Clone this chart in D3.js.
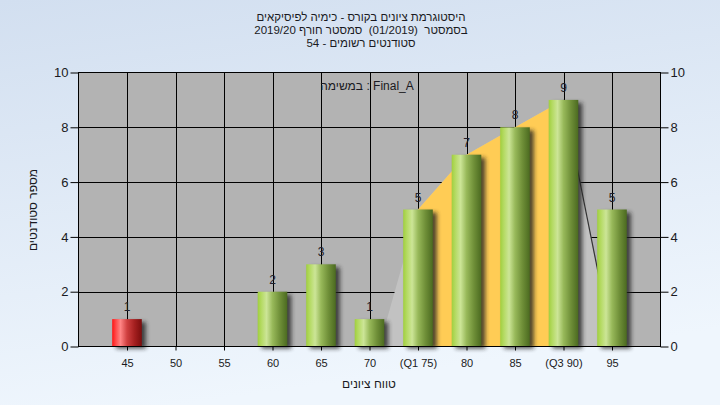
<!DOCTYPE html>
<html>
<head>
<meta charset="utf-8">
<script src="https://cdn.jsdelivr.net/npm/d3@7"></script>
<style>
html,body{margin:0;padding:0;}
svg{display:block;font-family:"Liberation Sans",Arial,"DejaVu Sans",sans-serif;}
.pre{white-space:pre;}
</style>
</head>
<body>
<svg id="chart" width="720" height="405"></svg>
<script>
// ---------- data ----------
const titleLines = [
  "היסטוגרמת ציונים בקורס - כימיה לפיסיקאים",
  "בסמסטר  (01/2019)  סמסטר חורף 2019/20",
  "סטודנטים רשומים - 54"
];
const legendText = "במשימה : Final_A";
const yTitle = "מספר סטודנטים";
const xTitle = "טווח ציונים";
const grades = [45, 50, 55, 60, 65, 70, 75, 80, 85, 90, 95];
const gradeLabels = ["45", "50", "55", "60", "65", "70", "(Q1 75)", "80", "85", "(Q3 90)", "95"];
const counts = [1, 0, 0, 2, 3, 1, 5, 7, 8, 9, 5];
const yTicks = [0, 2, 4, 6, 8, 10];
const failBelow = 55;          // grades below this are drawn red
const q1 = 75, q3 = 90;        // quartile band
const spreadStart = 71.0;      // light band begins on baseline
const spreadEnd = 95.1;        // light band ends on baseline

// ---------- setup ----------
const svg = d3.select("#chart");
const W = 720, H = 405;
const plot = {l: 78.5, r: 660.5, t: 72.5, b: 346.5};

const x = d3.scaleLinear().domain([40, 100]).range([plot.l, plot.r]);
const y = d3.scaleLinear().domain([0, 10]).range([plot.b, plot.t]);
const barW = (x(5) - x(0)) * 0.61;

const defs = svg.append("defs");
const bgGrad = defs.append("linearGradient").attr("id", "bg").attr("x1", 0).attr("y1", 0).attr("x2", 0.25).attr("y2", 1);
bgGrad.append("stop").attr("offset", "0%").attr("stop-color", "#d2dff0");
bgGrad.append("stop").attr("offset", "100%").attr("stop-color", "#eff6fd");

function barGradient(id, stops) {
  const g = defs.append("linearGradient").attr("id", id).attr("x1", 0).attr("y1", 0).attr("x2", 1).attr("y2", 0);
  stops.forEach(s => g.append("stop").attr("offset", s[0]).attr("stop-color", s[1]));
}
barGradient("green", [["0%", "#a0cf3e"], ["12%", "#b4da62"], ["30%", "#cce597"], ["50%", "#98b95a"], ["75%", "#6f8f38"], ["100%", "#4b6a20"]]);
barGradient("red", [["0%", "#ff1414"], ["12%", "#ff4848"], ["28%", "#ff8585"], ["50%", "#d04040"], ["75%", "#a52020"], ["100%", "#7a0c0c"]]);

const blur = defs.append("filter").attr("id", "shadow").attr("x", "-50%").attr("y", "-20%").attr("width", "200%").attr("height", "140%");
blur.append("feGaussianBlur").attr("stdDeviation", 2);

// background
svg.append("rect").attr("width", W).attr("height", H).attr("fill", "url(#bg)");

// plot background
svg.append("rect").attr("x", plot.l).attr("y", plot.t)
  .attr("width", plot.r - plot.l).attr("height", plot.b - plot.t).attr("fill", "#b3b3b3");

// grid lines
const grid = svg.append("g").attr("stroke", "#000").attr("stroke-width", 1);
grid.selectAll(".hg").data(yTicks.filter(v => v > 0 && v < 10)).join("line")
  .attr("x1", plot.l).attr("x2", plot.r)
  .attr("y1", d => Math.round(y(d)) + 0.5).attr("y2", d => Math.round(y(d)) + 0.5);
grid.selectAll(".vg").data(grades).join("line")
  .attr("y1", plot.t).attr("y2", plot.b)
  .attr("x1", d => Math.round(x(d)) + 0.5).attr("x2", d => Math.round(x(d)) + 0.5);

// light spread band
const inner = grades.map((g, i) => ({g, c: counts[i]})).filter(d => d.g >= q1 && d.g <= q3);
const spreadPts = [{g: spreadStart, c: 0}, ...inner, {g: spreadEnd, c: 0}];
svg.append("path")
  .attr("d", d3.line().x(d => x(d.g)).y(d => y(d.c))(spreadPts) + "Z")
  .attr("fill", "#c2c2c2");

// quartile area
svg.append("path")
  .attr("d", d3.area().x(d => x(d.g)).y0(y(0)).y1(d => y(d.c))(inner))
  .attr("fill", "#ffcc55");

// dark descending edge
const last = inner[inner.length - 1];
svg.append("line")
  .attr("x1", x(last.g)).attr("y1", y(last.c))
  .attr("x2", x(spreadEnd)).attr("y2", y(0))
  .attr("stroke", "#333").attr("stroke-width", 1.2);

// bars
const barData = grades.map((g, i) => ({g, c: counts[i], label: gradeLabels[i]})).filter(d => d.c > 0);
const bars = svg.append("g");
bars.selectAll(".sh").data(barData).join("rect")
  .attr("x", d => x(d.g) - barW / 2 + 4)
  .attr("y", d => y(d.c) + 3)
  .attr("width", barW).attr("height", d => y(0) - y(d.c) - 1)
  .attr("fill", "#222").attr("opacity", 0.8)
  .attr("filter", "url(#shadow)");
bars.selectAll(".bar").data(barData).join("rect")
  .attr("x", d => x(d.g) - barW / 2)
  .attr("y", d => y(d.c))
  .attr("width", barW).attr("height", d => y(0) - y(d.c))
  .attr("fill", d => d.g < failBelow ? "url(#red)" : "url(#green)");

// value labels
svg.append("g").selectAll("text").data(barData).join("text")
  .attr("x", d => x(d.g)).attr("y", d => y(d.c) - 8)
  .attr("text-anchor", "middle").attr("font-size", 12).attr("fill", "#1e1e2a")
  .text(d => d.c);

// plot border
svg.append("rect").attr("x", plot.l).attr("y", plot.t)
  .attr("width", plot.r - plot.l).attr("height", plot.b - plot.t)
  .attr("fill", "none").attr("stroke", "#000");

// axes
const axL = svg.append("g").attr("transform", `translate(${plot.l},0)`)
  .call(d3.axisLeft(y).tickValues(yTicks).tickSize(8).tickPadding(2).tickSizeOuter(0).tickFormat(d3.format("d")));
const axR = svg.append("g").attr("transform", `translate(${plot.r},0)`)
  .call(d3.axisRight(y).tickValues(yTicks).tickSize(8).tickPadding(2).tickSizeOuter(0).tickFormat(d3.format("d")));
const axB = svg.append("g").attr("transform", `translate(0,${plot.b})`)
  .call(d3.axisBottom(x).tickValues(grades).tickSize(4).tickPadding(9).tickSizeOuter(0)
    .tickFormat((d, i) => gradeLabels[i]));
[axL, axR].forEach(a => a.selectAll("text").attr("font-size", 13).attr("fill", "#1a1a22").attr("font-family", "Liberation Sans, Arial, sans-serif"));
axB.selectAll("text").attr("font-size", 11).attr("fill", "#1a1a22").attr("font-family", "Liberation Sans, Arial, sans-serif");
[axL, axR, axB].forEach(a => { a.select(".domain").remove(); a.selectAll("line").attr("stroke", "#000"); });

// titles
svg.append("g").selectAll("text").data(titleLines).join("text")
  .attr("class", "pre")
  .attr("x", 361).attr("y", (d, i) => 21 + i * 13)
  .attr("text-anchor", "middle").attr("direction", "rtl")
  .attr("font-size", 11.5).attr("fill", "#1a1a22")
  .text(d => d);

svg.append("text").attr("x", 367).attr("y", 90)
  .attr("text-anchor", "middle").attr("font-size", 12).attr("fill", "#1a1a22")
  .text(legendText);

svg.append("text").attr("transform", "translate(37,210) rotate(-90)")
  .attr("text-anchor", "middle").attr("direction", "rtl")
  .attr("font-size", 12).attr("fill", "#1a1a22").text(yTitle);

svg.append("text").attr("x", 369).attr("y", 388)
  .attr("text-anchor", "middle").attr("direction", "rtl")
  .attr("font-size", 12).attr("fill", "#1a1a22").text(xTitle);
</script>
</body>
</html>
